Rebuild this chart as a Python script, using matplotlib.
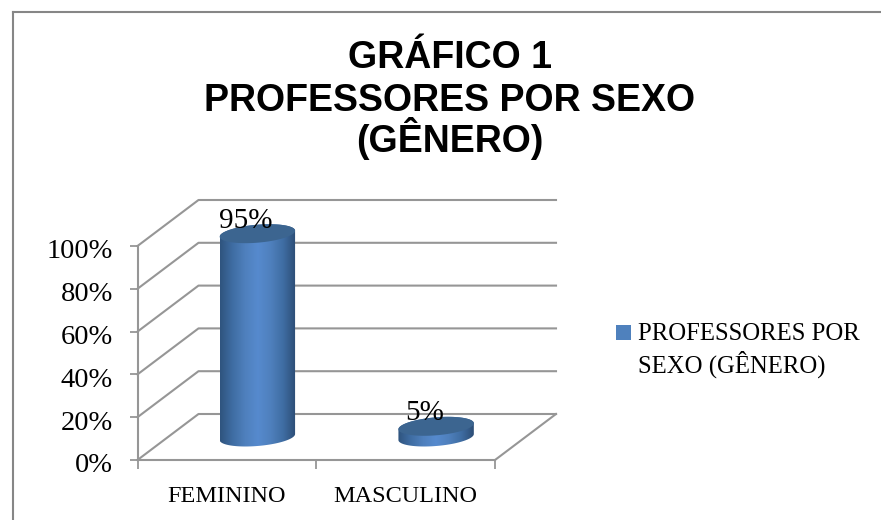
import numpy as np
import matplotlib
matplotlib.use("Agg")
import matplotlib.pyplot as plt
from matplotlib.patches import Polygon, Rectangle
from matplotlib.lines import Line2D
from matplotlib.colors import LinearSegmentedColormap
from matplotlib.transforms import ScaledTranslation

categories = ["FEMININO", "MASCULINO"]
values = [95, 5]
value_labels = ["95%", "5%"]
y_ticks = [0, 20, 40, 60, 80, 100]
y_tick_labels = ["0%", "20%", "40%", "60%", "80%", "100%"]
title_lines = ["GRÁFICO 1", "PROFESSORES POR SEXO", "(GÊNERO)"]
legend_lines = ["PROFESSORES POR", "SEXO (GÊNERO)"]

W, H = 881, 520
GRID = "#969696"
SERIF = "Liberation Serif"
fig = plt.figure(figsize=(W / 100, H / 100), dpi=100, facecolor="white")
L, R, B, T = 137.5, 495, 460, 246
ax = fig.add_axes([L / W, 1 - B / H, (R - L) / W, (B - T) / H])
ax.set_xlim(0, 2)
ax.set_ylim(0, 100)
ax.patch.set_visible(False)

px_x = (R - L) / 2
px_y = (B - T) / 100
dx, dy = 61 / px_x, 46 / px_y

# chart frame
fig.add_artist(Line2D([12.5 / W, 12.5 / W], [0, 1 - 11.5 / H], color="#868686", lw=1.5))
fig.add_artist(Line2D([12.5 / W, 1], [1 - 11.5 / H, 1 - 11.5 / H], color="#868686", lw=1.5))

# axes
for s in ("top", "right"):
    ax.spines[s].set_visible(False)
for s in ("left", "bottom"):
    ax.spines[s].set_color(GRID)
    ax.spines[s].set_linewidth(1.5)
ax.set_yticks(y_ticks, y_tick_labels, fontsize=20.5, family=SERIF)
ax.set_xticks([0, 1, 2])
ax.set_xticklabels([])
ax.tick_params(axis="y", length=5.8, width=1.3, color=GRID, pad=12, labelcolor="black")
ax.tick_params(axis="x", length=6.5, width=1.3, color=GRID)
shift = ScaledTranslation(0, -3 / 100, fig.dpi_scale_trans)
for lbl in ax.get_yticklabels():
    lbl.set_transform(lbl.get_transform() + shift)

# walls and floor
for v in y_ticks:
    ax.plot([0, dx, 2 + dx], [v, v + dy, v + dy], color=GRID, lw=1.5, clip_on=False, zorder=1)
ax.plot([2, 2 + dx], [0, dy], color=GRID, lw=1.5, clip_on=False, zorder=1)

for i, c in enumerate(categories):
    ax.text(i + 0.5, -17, c, ha="center", va="center", fontsize=17.5, family=SERIF, color="black")

# cylinders
a = 37.7 / px_x
b = 9.0 / px_y
tilt = 3.0 / px_y
t = np.linspace(0, 2 * np.pi, 200)
body_cmap = LinearSegmentedColormap.from_list(
    "body", ["#2f547e", "#3f6da3", "#4f80bd", "#568ace", "#4f80bd", "#3f6da3", "#2c4d75"])
grad = np.linspace(0, 1, 256).reshape(1, -1)

for i, v in enumerate(values):
    cx = i + 0.5 + dx / 2
    y0 = dy / 2
    lower = t[(t >= np.pi) & (t <= 2 * np.pi)]
    upper = t[t <= np.pi]
    xs = np.r_[cx + a * np.cos(lower), cx + a * np.cos(upper)]
    ys = np.r_[y0 + tilt * np.cos(lower) + b * np.sin(lower),
               y0 + v + tilt * np.cos(upper) + b * np.sin(upper)]
    clip = Polygon(np.c_[xs, ys], closed=True, transform=ax.transData, facecolor="none", edgecolor="none")
    ax.add_patch(clip)
    clip.set_clip_on(False)
    im = ax.imshow(grad, cmap=body_cmap, aspect="auto", zorder=3,
                   extent=[cx - a, cx + a, y0 - b - 3, y0 + v + b + 3])
    im.set_clip_box(fig.bbox)
    im.set_clip_path(clip)
    ax.add_patch(Polygon(np.c_[cx + a * np.cos(t), y0 + v + tilt * np.cos(t) + b * np.sin(t)],
                         closed=True, facecolor="#3c6590", edgecolor="none", zorder=4, clip_on=False))
    ax.annotate(value_labels[i], (cx, y0 + v), xytext=(-11.5, 13), textcoords="offset pixels",
                ha="center", va="center", fontsize=21, family=SERIF, color="black",
                zorder=5, annotation_clip=False)

ax.set_xlim(0, 2)
ax.set_ylim(0, 100)

# title
for line, base in zip(title_lines, [67.7, 111, 152]):
    fig.text(450 / W, 1 - base / H, line, ha="center", va="baseline", fontsize=27, fontweight="bold",
             family="Liberation Sans", color="black")

# legend
fig.add_artist(Rectangle((616 / W, 1 - 340 / H), 15 / W, 15 / H, transform=fig.transFigure,
                         facecolor="#4f81bd", edgecolor="none"))
for line, base in zip(legend_lines, [339.5, 373]):
    fig.text(638 / W, 1 - base / H, line, ha="left", va="baseline", fontsize=17.8, family=SERIF,
             color="black")

fig.savefig("out.png", dpi=100)
